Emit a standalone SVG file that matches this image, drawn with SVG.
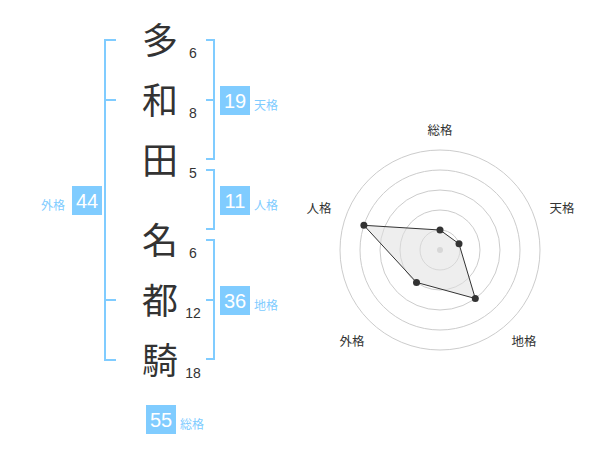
<svg xmlns="http://www.w3.org/2000/svg" width="600" height="470" viewBox="0 0 600 470">
<style>
.kanji{font-family:"Noto Sans CJK JP","Noto Sans",sans-serif;font-size:36px;fill:#333;text-anchor:middle}
.num{font-family:"Liberation Sans",Arial,sans-serif;font-size:14px;fill:#333;text-anchor:middle}
.box{fill:#80ccff}
.bnum{font-family:"Liberation Sans",Arial,sans-serif;font-size:20px;fill:#fff;text-anchor:middle}
.blab{font-family:"Noto Sans CJK JP","Noto Sans",sans-serif;font-size:12px;fill:#80ccff}
.br{fill:none;stroke:#80ccff;stroke-width:2}
.ring{fill:none;stroke:#ccc;stroke-width:1}
.rlab{font-family:"Noto Sans CJK JP","Noto Sans",sans-serif;font-size:12.5px;fill:#333;text-anchor:middle}
.dot{fill:#333}
</style>
<rect width="600" height="470" fill="#fff"/>
<g id="connectors">
<path class="br" d="M116,40 H105 V360 H116 M105,100 H116 M105,300 H116"/>
<path class="br" d="M206,40 H214 V159 H206 M206,100 H214"/>
<path class="br" d="M206,170 H214 V229 H206"/>
<path class="br" d="M206,240 H214 V359 H206 M206,300 H214"/>
</g>
<g id="name">
<g id="c1"><text class="kanji" x="160" y="54">多</text><text class="num" x="193" y="58">6</text></g>
<g id="c2"><text class="kanji" x="160" y="114">和</text><text class="num" x="193" y="118">8</text></g>
<g id="c3"><text class="kanji" x="160" y="174">田</text><text class="num" x="193" y="178">5</text></g>
<g id="c4"><text class="kanji" x="160" y="254">名</text><text class="num" x="193" y="258">6</text></g>
<g id="c5"><text class="kanji" x="160" y="314">都</text><text class="num" x="193" y="318">12</text></g>
<g id="c6"><text class="kanji" x="160" y="374">騎</text><text class="num" x="193" y="378">18</text></g>
</g>
<g id="tenkaku"><rect class="box" x="220" y="86" width="30" height="29"/><text class="bnum" x="235" y="107.5">19</text><text class="blab" x="254" y="109.5">天格</text></g>
<g id="jinkaku"><rect class="box" x="220" y="186" width="30" height="29"/><text class="bnum" x="235" y="207.5">11</text><text class="blab" x="254" y="209.5">人格</text></g>
<g id="chikaku"><rect class="box" x="220" y="286" width="30" height="29"/><text class="bnum" x="235" y="307.5">36</text><text class="blab" x="254" y="309.5">地格</text></g>
<g id="gaikaku"><rect class="box" x="72" y="186" width="30" height="29"/><text class="bnum" x="87" y="207.5">44</text><text class="blab" x="41" y="209.5">外格</text></g>
<g id="soukaku"><rect class="box" x="146" y="405" width="30" height="29"/><text class="bnum" x="161" y="426.5">55</text><text class="blab" x="180" y="428.5">総格</text></g>
<g id="radar">
<circle class="ring" cx="440" cy="250" r="20"/>
<circle class="ring" cx="440" cy="250" r="40"/>
<circle class="ring" cx="440" cy="250" r="60"/>
<circle class="ring" cx="440" cy="250" r="80"/>
<circle class="ring" cx="440" cy="250" r="100"/>
<circle cx="440" cy="250" r="3" fill="#ccc"/>
<polygon points="440,230 459,243.8 475.3,298.5 416.5,282.4 363.9,225.3" fill="#e0e0e0" fill-opacity="0.55" stroke="#333" stroke-width="1"/>
<circle class="dot" cx="440" cy="230" r="3.5"/>
<circle class="dot" cx="459" cy="243.8" r="3.5"/>
<circle class="dot" cx="475.3" cy="298.5" r="3.5"/>
<circle class="dot" cx="416.5" cy="282.4" r="3.5"/>
<circle class="dot" cx="363.9" cy="225.3" r="3.5"/>
<text class="rlab" x="440" y="134.5">総格</text>
<text class="rlab" x="562" y="213">天格</text>
<text class="rlab" x="319" y="213">人格</text>
<text class="rlab" x="352" y="346">外格</text>
<text class="rlab" x="524" y="346">地格</text>
</g>
</svg>
